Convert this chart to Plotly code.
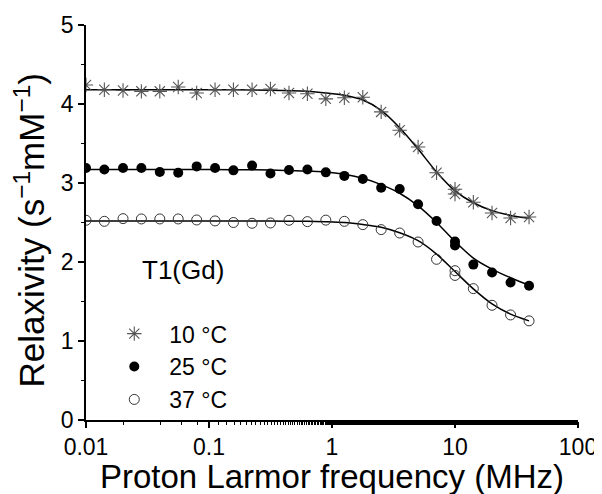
import plotly.graph_objects as go

# ---- data ----
freq_mhz = [0.01, 0.0141, 0.02, 0.0282, 0.0398, 0.0562, 0.0794, 0.112, 0.158,
            0.224, 0.316, 0.447, 0.631, 0.891, 1.26, 1.78, 2.51, 3.55, 5.01,
            7.08, 10.0, 10.0, 14.1, 20.0, 28.3, 40.0]

r1_10C = [4.24, 4.18, 4.17, 4.16, 4.16, 4.215, 4.14, 4.18, 4.18, 4.18, 4.19,
          4.14, 4.13, 4.065, 4.08, 4.085, 3.90, 3.667, 3.456, 3.13, 2.92, 2.86,
          2.756, 2.62, 2.557, 2.57]
r1_25C = [3.19, 3.17, 3.19, 3.19, 3.14, 3.13, 3.21, 3.19, 3.16, 3.22, 3.12,
          3.165, 3.17, 3.135, 3.09, 3.05, 2.94, 2.925, 2.73, 2.52, 2.26, 2.21,
          1.967, 1.867, 1.74, 1.70]
r1_37C = [2.528, 2.515, 2.549, 2.545, 2.545, 2.545, 2.532, 2.52, 2.50, 2.49,
          2.494, 2.528, 2.511, 2.53, 2.515, 2.473, 2.41, 2.367, 2.253, 2.034,
          1.89, 1.83, 1.663, 1.452, 1.33, 1.255]

fit_freq = [0.01, 0.1, 0.316, 0.631, 0.891, 1.26, 1.78, 2.51, 3.55, 5.01,
            7.08, 10.0, 14.1, 20.0, 28.3, 40.0]
fit_10C = [4.18, 4.18, 4.175, 4.16, 4.14, 4.11, 4.05, 3.92, 3.70, 3.43,
           3.14, 2.90, 2.75, 2.65, 2.59, 2.555]
fit_25C = [3.17, 3.17, 3.165, 3.15, 3.14, 3.11, 3.06, 2.98, 2.87, 2.71,
           2.50, 2.26, 2.05, 1.91, 1.80, 1.705]
fit_37C = [2.52, 2.52, 2.518, 2.515, 2.51, 2.50, 2.475, 2.44, 2.37, 2.27,
           2.10, 1.88, 1.66, 1.47, 1.34, 1.255]

legend_names = ["10 °C", "25 °C", "37 °C"]
annotation_text = "T1(Gd)"
x_title = "Proton Larmor frequency (MHz)"
y_title = "Relaxivity (s<sup>−1</sup>mM<sup>−1</sup>)"
x_tick_vals = [0.01, 0.1, 1, 10, 100]
x_tick_text = ["0.01", "0.1", "1", "10", "100"]
y_tick_vals = [0, 1, 2, 3, 4, 5]

FONT = "Liberation Sans, Arial, sans-serif"

fig = go.Figure()

# fitted curves
for fy in (fit_10C, fit_25C, fit_37C):
    fig.add_trace(go.Scatter(x=fit_freq, y=fy, mode="lines",
                             line=dict(color="black", width=1.5, shape="spline", smoothing=0.8),
                             showlegend=False, hoverinfo="skip"))

# data points
fig.add_trace(go.Scatter(x=freq_mhz, y=r1_10C, mode="markers", name=legend_names[0],
                         marker=dict(symbol="asterisk-open", size=12, color="#555555",
                                     line=dict(color="#555555", width=1.1))))
fig.add_trace(go.Scatter(x=freq_mhz, y=r1_25C, mode="markers", name=legend_names[1],
                         marker=dict(symbol="circle", size=10, color="black",
                                     line=dict(width=0))))
fig.add_trace(go.Scatter(x=freq_mhz, y=r1_37C, mode="markers", name=legend_names[2],
                         marker=dict(symbol="circle-open", size=10, color="#333333",
                                     line=dict(color="#333333", width=1))))

fig.add_annotation(text=annotation_text, x=0.11, y=1.9, xref="paper", yref="y",
                   xanchor="left", yanchor="middle", showarrow=False,
                   font=dict(family=FONT, size=26, color="black"))

# axis titles
fig.add_annotation(text=x_title, x=0.5, y=0, xref="paper", yref="paper",
                   xanchor="center", yanchor="middle", yshift=-56, showarrow=False,
                   font=dict(family=FONT, size=33, color="black"))
fig.add_annotation(text=y_title, x=0, y=0.5, xref="paper", yref="paper",
                   xanchor="center", yanchor="middle", xshift=-57, yshift=-8,
                   textangle=-90, showarrow=False,
                   font=dict(family=FONT, size=35, color="black"))

fig.update_layout(
    width=594, height=486,
    margin=dict(l=78, r=24, t=17, b=74, autoexpand=False),
    paper_bgcolor="white", plot_bgcolor="white",
    font=dict(family=FONT, color="black"),
    legend=dict(x=0.027, y=0.273, xanchor="left", yanchor="top",
                bgcolor="rgba(0,0,0,0)", font=dict(family=FONT, size=23),
                itemwidth=60, tracegroupgap=0),
)

fig.update_xaxes(type="log", range=[-2, 2], tickvals=x_tick_vals, ticktext=x_tick_text,
                 automargin=False,
                 showline=True, linecolor="black", linewidth=1.5,
                 ticks="outside", ticklen=6, tickwidth=1.5, tickcolor="black",
                 minor=dict(ticks="outside", ticklen=3, tickwidth=1.2, tickcolor="black",
                            showgrid=False),
                 showgrid=False, zeroline=False,
                 tickfont=dict(family=FONT, size=23))
fig.update_yaxes(range=[0, 5], tickvals=y_tick_vals,
                 automargin=False,
                 showline=True, linecolor="black", linewidth=1.5,
                 ticks="outside", ticklen=6, tickwidth=1.5, tickcolor="black",
                 minor=dict(ticks="outside", ticklen=3, tickwidth=1.2, tickcolor="black",
                            dtick=0.5, showgrid=False),
                 showgrid=False, zeroline=False,
                 tickfont=dict(family=FONT, size=23))

fig.write_html("out.html")
